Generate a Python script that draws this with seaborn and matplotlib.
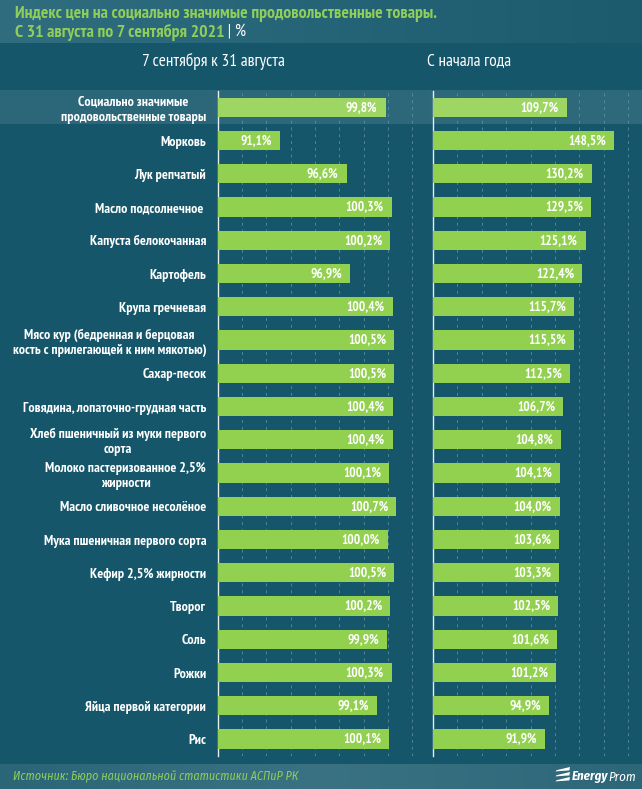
import numpy as np
import pandas as pd
import matplotlib
matplotlib.use("Agg")
import matplotlib.pyplot as plt
from matplotlib.colors import LinearSegmentedColormap
from matplotlib.patches import Polygon
import seaborn as sns

categories = ["Социально значимые\nпродовольственные товары", "Морковь", "Лук репчатый",
              "Масло подсолнечное ", "Капуста белокочанная", "Картофель", "Крупа гречневая",
              "Мясо кур (бедренная и берцовая\nкость с прилегающей к ним мякотью)", "Сахар-песок",
              "Говядина, лопаточно-грудная часть", "Хлеб пшеничный из муки первого\nсорта",
              "Молоко пастеризованное 2,5%\nжирности", "Масло сливочное несолёное",
              "Мука пшеничная первого сорта", "Кефир 2,5% жирности", "Творог", "Соль", "Рожки",
              "Яйца первой категории", "Рис"]
week_values = [99.8, 91.1, 96.6, 100.3, 100.2, 96.9, 100.4, 100.5, 100.5, 100.4,
               100.4, 100.1, 100.7, 100.0, 100.5, 100.2, 99.9, 100.3, 99.1, 100.1]
ytd_values = [109.7, 148.5, 130.2, 129.5, 125.1, 122.4, 115.7, 115.5, 112.5, 106.7,
              104.8, 104.1, 104.0, 103.6, 103.3, 102.5, 101.6, 101.2, 94.9, 91.9]

W, H = 642, 789
BG = "#15566a"
GREEN = "#92d050"
LIGHT = "#9dd663"
TITLE = "#8fce5a"
FAM = ["PT Sans Narrow", "Roboto Condensed", "Liberation Sans", "DejaVu Sans"]
ITAL = ["Fira Sans Condensed", "Roboto Condensed", "Liberation Sans", "DejaVu Sans"]

sns.set_theme(style="dark", rc={"font.family": FAM})
plt.rcParams["font.family"] = FAM

fig = plt.figure(figsize=(W / 100, H / 100), dpi=100, facecolor=BG)


def box(x0, y0, x1, y1):
    return [x0 / W, 1 - y1 / H, (x1 - x0) / W, (y1 - y0) / H]


bg = fig.add_axes([0, 0, 1, 1], zorder=0)
bg.set_xlim(0, W)
bg.set_ylim(H, 0)
bg.axis("off")
ramp = np.linspace(0, 1, 256).reshape(1, -1)
hdr = LinearSegmentedColormap.from_list("h", ["#2f6d7f", "#1c5a6e"])
rowc = LinearSegmentedColormap.from_list("r", ["#2c6679", "#2f6a7c"])
ftr = LinearSegmentedColormap.from_list("f", ["#2a6678", "#3a7283", "#2c6779"])
bg.imshow(ramp, cmap=hdr, extent=(0, W, 43, 0), aspect="auto")
bg.imshow(ramp, cmap=rowc, extent=(0, W, 124.3, 90.7), aspect="auto")
bg.imshow(ramp, cmap=ftr, extent=(0, W, 789, 764), aspect="auto")
bg.set_xlim(0, W)
bg.set_ylim(H, 0)
# logo icon
for y0 in (767, 772, 777):
    bg.add_patch(Polygon([[556.5, y0 + 3.2], [570, y0], [569.5, y0 + 2.4], [569.5, y0 + 3.4], [555.5, y0 + 4.4]],
                         closed=True, fc="white", ec="none"))

df = pd.DataFrame({"cat": categories, "week": week_values, "ytd": ytd_values})


def panel(rect, col, xlim, ticks):
    ax = fig.add_axes(rect, zorder=2)
    ax.patch.set_alpha(0)
    sns.barplot(data=df, x=col, y="cat", ax=ax, color=GREEN, width=0.58, saturation=1,
                orient="h", native_scale=False, zorder=3, linewidth=0, edgecolor="none")
    ax.patches[0].set_facecolor(LIGHT)
    ax.set_xlim(*xlim)
    ax.set_ylim(19.5, -0.5)
    ax.set_xticks(ticks)
    ax.set_xticklabels([])
    ax.set_xlabel("")
    ax.set_ylabel("")
    ax.tick_params(axis="x", length=0)
    ax.grid(axis="x", color="#5f929f", lw=0.7, ls=(0, (3, 4)), alpha=0.8, zorder=1)
    ax.grid(axis="y", visible=False)
    ax.set_axisbelow(True)
    for s in ("top", "right", "bottom"):
        ax.spines[s].set_visible(False)
    ax.spines["left"].set_color("#e6eef0")
    ax.spines["left"].set_linewidth(1.0)
    for i, v in enumerate(df[col]):
        ax.annotate(f"{v:.1f}%".replace(".", ","), xy=(v, i), xytext=(-5.8, 0),
                    textcoords="offset points", ha="right", va="center",
                    color="white", fontsize=9.6, fontweight="bold", zorder=5)
    return ax


left = panel(box(217.6, 90.7, 414, 755.7), "week", (86, 86 + (414 - 217.6) / 12.17), np.arange(88, 103, 2))
right = panel(box(433, 90.7, 630, 755.7), "ytd", (0, 197 / 1.22), np.arange(20, 161, 20))

left.tick_params(axis="y", length=0, pad=8.2)
for lab in left.get_yticklabels():
    lab.set_color("white")
    lab.set_fontsize(10.1)
    lab.set_fontweight("bold")
    lab.set_multialignment("center")
right.tick_params(axis="y", length=0, labelleft=False)

t = fig.text(15 / W, 1 - 14 / H, "Индекс цен на социально значимые продовольственные товары.",
             color=TITLE, fontsize=12.7, fontweight="bold", va="center", ha="left")
t2 = fig.text(15 / W, 1 - 32 / H, "С 31 августа по 7 сентября 2021", color=TITLE, fontsize=12.7,
              fontweight="bold", va="center", ha="left")
bg.annotate(" | %", xy=(1, 0), xycoords=t2, va="bottom", ha="left", color="white", fontsize=12.7)
fig.text(213.5 / W, 1 - 61 / H, "7 сентября к 31 августа", color="white", fontsize=12.4, ha="center", va="center")
fig.text(469.5 / W, 1 - 61 / H, "С начала года", color="white", fontsize=12.4, ha="center", va="center")
fig.text(13 / W, 1 - 776.5 / H, "Источник: Бюро национальной статистики АСПиР РК", color=TITLE,
         fontsize=8.7, style="italic", ha="left", va="center", family=ITAL)
e = fig.text(572 / W, 1 - 777 / H, "Energy", color="white", fontsize=9.3, fontweight="bold", style="italic",
             ha="left", va="center", family=ITAL)
bg.annotate("Prom", xy=(1, 0), xycoords=e, va="bottom", ha="left", color="white", fontsize=9.3, style="italic", family=ITAL)

fig.savefig("out.png", dpi=100, facecolor=BG)
